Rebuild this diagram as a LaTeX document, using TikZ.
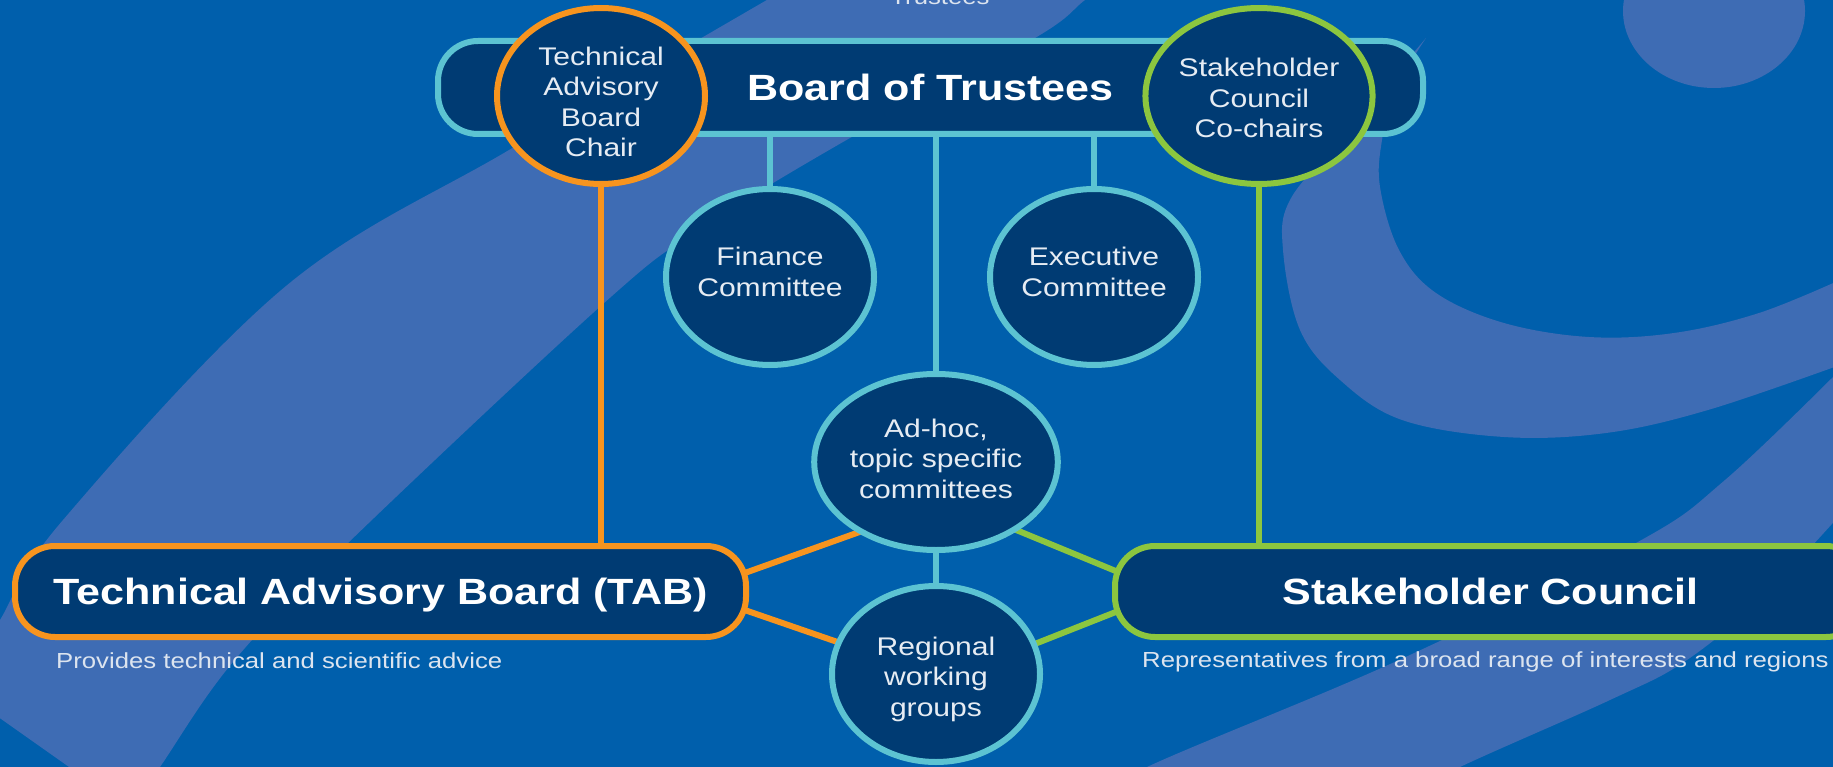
\documentclass[tikz,border=0pt]{standalone}
\usepackage{fontspec}
\setmainfont{Liberation Sans}[FakeStretch=1.18]
\usetikzlibrary{shapes.geometric,calc}
\pgfdeclarelayer{bg}
\pgfdeclarelayer{edges}
\pgfsetlayers{bg,edges,main}
\definecolor{bgblue}{HTML}{005FAC}
\definecolor{swoosh}{HTML}{3E6CB4}
\definecolor{navy}{HTML}{003B73}
\definecolor{cyanc}{HTML}{5CC3D2}
\definecolor{orangec}{HTML}{F7941E}
\definecolor{greenc}{HTML}{8CC63F}
\definecolor{circtext}{HTML}{E6ECF3}
\definecolor{subtext}{HTML}{DCE4EF}
\newcommand\myheadfont{\fontsize{36.5}{40}\selectfont\bfseries}
\newcommand\mycircfont{\fontsize{25.5}{30.5}\selectfont}
\newcommand\mysubfont{\fontsize{21.8}{26}\selectfont}
\newcommand\toppad[1]{\rule{0pt}{#1}}
\newcommand\botpad[1]{\rule[-#1]{0pt}{0pt}}
\begin{document}
\begin{tikzpicture}[x=1pt,y=-1pt,
  circ/.style={ellipse, draw=cyanc, line width=6pt, fill=navy, minimum width=208pt,
    minimum height=176pt, inner sep=0pt, align=center, text=circtext, font=\mycircfont},
  bar/.style={rectangle, rounded corners=40pt, line width=6pt, fill=navy, text=white,
    font=\myheadfont, inner sep=0pt, text height=26pt, text depth=0pt},
  link/.style={line width=6pt, shorten <=-6pt, shorten >=-6pt},
  subt/.style={text=subtext, font=\mysubfont, inner sep=0pt, anchor=base west}]
\useasboundingbox (0,0) rectangle (1833,767);
\begin{pgfonlayer}{bg}
\fill[bgblue] (0,0) rectangle (1833,767);
\fill[swoosh] plot[smooth, tension=0.6] coordinates {(-40,690) (0,620) (63,520) (286,286) (509,150) (710,33) (810,-25)}
  -- plot[smooth, tension=0.6] coordinates {(1120,-25) (1085,0) (1035,38) (857,134) (700,229) (603,304) (348,543) (233,662) (160,767) (130,810)} -- cycle;
\fill[swoosh] plot[smooth, tension=0.6] coordinates {(1426,38) (1340,140) (1290,200) (1283,250) (1300,330) (1340,380) (1402,420) (1504,437) (1606,433) (1708,410) (1840,365)}
  -- plot[smooth, tension=0.6] coordinates {(1840,280) (1759,313) (1674,333) (1589,337) (1504,323) (1436,293) (1399,250) (1380,187) (1382,140) (1395,90) (1426,38)} -- cycle;
\fill[swoosh] plot[smooth, tension=0.6] coordinates {(1100,800) (1147,767) (1399,660) (1636,543) (1725,480) (1840,370)}
  -- plot[smooth, tension=0.6] coordinates {(1840,515) (1760,600) (1684,662) (1610,700) (1460,767) (1400,800)} -- cycle;
\fill[swoosh] (1714,11) ellipse [x radius=91pt, y radius=77pt];
\end{pgfonlayer}

\node[bar, draw=cyanc, minimum width=985pt, minimum height=93pt] (board) at (930.5,87.5) {Board of Trustees};
\node[circ, draw=orangec] (tabchair) at (601,96) {\toppad{30pt}Technical\\Advisory\\Board\\Chair};
\node[circ, draw=greenc] (cochair) at (1259,96) {\toppad{22.5pt}Stakeholder\\Council\\Co-chairs};
\node[circ] (finance) at (770,277) {Finance\\Committee\botpad{10pt}};
\node[circ] (exec) at (1094,277) {Executive\\Committee\botpad{10pt}};
\node[circ] (adhoc) at (936,462) {Ad-hoc,\\topic specific\\committees\botpad{7pt}};
\node[circ] (regional) at (936,674) {\toppad{28.5pt}Regional\\working\\groups};
\node[bar, draw=orangec, minimum width=731pt, minimum height=91pt] (tab) at (380.5,591.5) {Technical Advisory Board (TAB)};
\node[bar, draw=greenc, minimum width=751pt, minimum height=91pt] (sc) at (1490.5,591.5) {Stakeholder Council};
\node[subt] (tabsub) at (56,668) {Provides technical and scientific advice};
\node[subt] (scsub) at (1142,667) {Representatives from a broad range of interests and regions};
\node[text=subtext, font=\mysubfont, inner sep=0pt, anchor=base] (toptext) at (940,5) {Trustees};

\begin{pgfonlayer}{edges}
\draw[link, cyanc] (finance.center) -- (finance.center |- board.center);
\draw[link, cyanc] (exec.center) -- (exec.center |- board.center);
\draw[link, cyanc] (adhoc.center) -- (adhoc.center |- board.center);
\draw[link, cyanc] (adhoc.center) -- (regional.center);
\draw[link, orangec] (tabchair.center) -- (tabchair.center |- tab.center);
\draw[link, greenc] (cochair.center) -- (cochair.center |- sc.center);
\draw[link, orangec] ([yshift=20pt]tab.east) -- (adhoc.222);
\draw[link, orangec] ([yshift=-20pt]tab.east) -- (regional.162);
\draw[link, greenc] ([yshift=22pt]sc.west) -- (adhoc.320);
\draw[link, greenc] ([yshift=-22pt]sc.west) -- (regional.17);
\end{pgfonlayer}
\end{tikzpicture}
\end{document}
